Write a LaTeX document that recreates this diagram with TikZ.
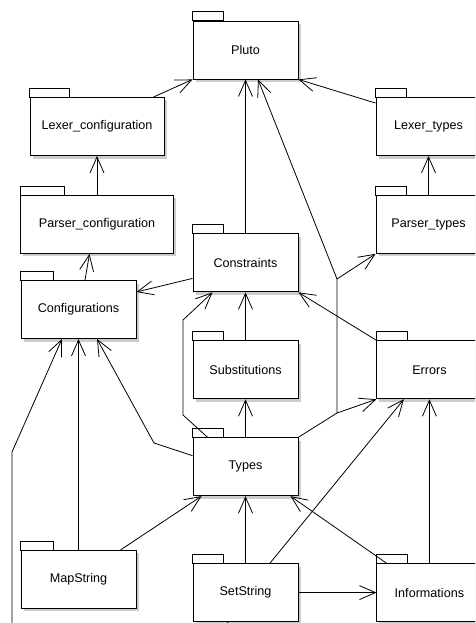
\documentclass[tikz,border=0pt]{standalone}
\usepackage{fontspec}
\setmainfont{Liberation Sans}
\usetikzlibrary{arrows.meta,positioning,shadows}

\begin{document}
\begin{tikzpicture}[
    x=1pt, y=-1pt,
    pkg/.style={rectangle, draw=black, line width=0.9pt, fill=white, minimum width=105pt, minimum height=58pt, inner sep=0pt, text centered, font=\fontsize{12.6}{15}\selectfont, drop shadow={shadow xshift=2.5pt, shadow yshift=-3pt, opacity=0.4}},
    tab/.style={draw=black, line width=0.9pt, fill=white},
    dep/.style={-{Straight Barb[length=16pt, width=14pt]}, line width=0.8pt},
    link/.style={line width=0.8pt}
]
\useasboundingbox (0,0) rectangle (475,623);
\clip (0,0) rectangle (475,623);

% packages
\node[pkg] (pluto) at (245.5,50) {Pluto};
\node[pkg, below=154pt of pluto] (constraints) {Constraints};
\node[pkg, below=48pt of constraints] (substitutions) {Substitutions};
\node[pkg, below=38pt of substitutions] (types) {Types};
\node[pkg, below=67pt of types] (setstring) {SetString};
\node[pkg, right=78pt of substitutions] (errors) {Errors};
\node[pkg, right=78pt of setstring] (informations) {Informations};
\node[pkg] (lexertypes) at (428.5,126.5) {Lexer\_types};
\node[pkg, below=39pt of lexertypes] (parsertypes) {Parser\_types};
\node[pkg, minimum width=134pt] (lexerconf) at (97,126.5) {Lexer\_configuration};
\node[pkg, minimum width=153pt, below=39pt of lexerconf] (parserconf) {Parser\_configuration};
\node[pkg, minimum width=115pt] (configurations) at (78.5,309.5) {Configurations};
\node[pkg, minimum width=115pt, below=211pt of configurations] (mapstring) {MapString};

% tabs
\foreach \n/\w in {pluto/31, constraints/31, substitutions/31, types/31, setstring/31, errors/31, informations/31, lexertypes/31, parsertypes/31, lexerconf/40, parserconf/44, configurations/33, mapstring/33}
  \draw[tab] (\n.north west) rectangle ++(\w,-9);

% bends
\coordinate (j1) at (337,413);
\coordinate (j2) at (337,279);
\coordinate (c1) at (183,415);
\coordinate (c2) at (183,320);
\coordinate (c3) at (154,443);
\coordinate (c4) at (12,452);
\coordinate (off1) at (12,640);
\coordinate (off2) at (217,640);

% dependencies
\draw[dep] ([xshift=-11pt]lexerconf.north east) -- (pluto.south west);
\draw[dep] (constraints) -- (pluto);
\draw[dep] ([yshift=-6pt]lexertypes.north west) -- (pluto.south east);
\draw[dep] (parsertypes) -- (lexertypes);
\draw[dep] (parserconf) -- (lexerconf);
\draw[dep] ([xshift=6.5pt]configurations.north) -- ([xshift=-7.5pt]parserconf.south);
\draw[dep] ([yshift=-15.5pt]constraints.west) -- ([yshift=17.5pt]configurations.east);
\draw[dep] (errors.north west) -- (constraints.south east);
\draw[dep] (substitutions) -- (constraints);
\draw[dep] ([xshift=15pt]types.north west) -- (c1) -- (c2) -- ([xshift=20pt]constraints.south west);
\draw[dep] (types) -- (substitutions);
\draw[dep] ([yshift=11pt]types.west) -- (c3) -- ([xshift=18.5pt]configurations.south);
\draw[dep] (types.north east) -- (j1) -- (errors.south west);
\draw[dep] (j1) -- (j2) -- (parsertypes.south west);
\draw[dep] (j2) -- ([xshift=12.5pt]pluto.south);
\draw[dep] (mapstring) -- (configurations);
\draw[dep] (off1) -- (c4) -- ([xshift=-16.5pt]configurations.south);
\draw[dep] ([xshift=-16pt]mapstring.north east) -- ([xshift=9pt]types.south west);
\draw[dep] (setstring) -- (types);
\draw[dep] ([xshift=10pt]informations.north west) -- ([xshift=-8pt]types.south east);
\draw[dep] ([xshift=24.5pt]setstring.north) -- ([xshift=-25.5pt]errors.south);
\draw[dep] (informations) -- (errors);
\draw[dep] (setstring) -- (informations);
\draw[link] ([xshift=-17.5pt]setstring.south) -- (off2);
\end{tikzpicture}
\end{document}
